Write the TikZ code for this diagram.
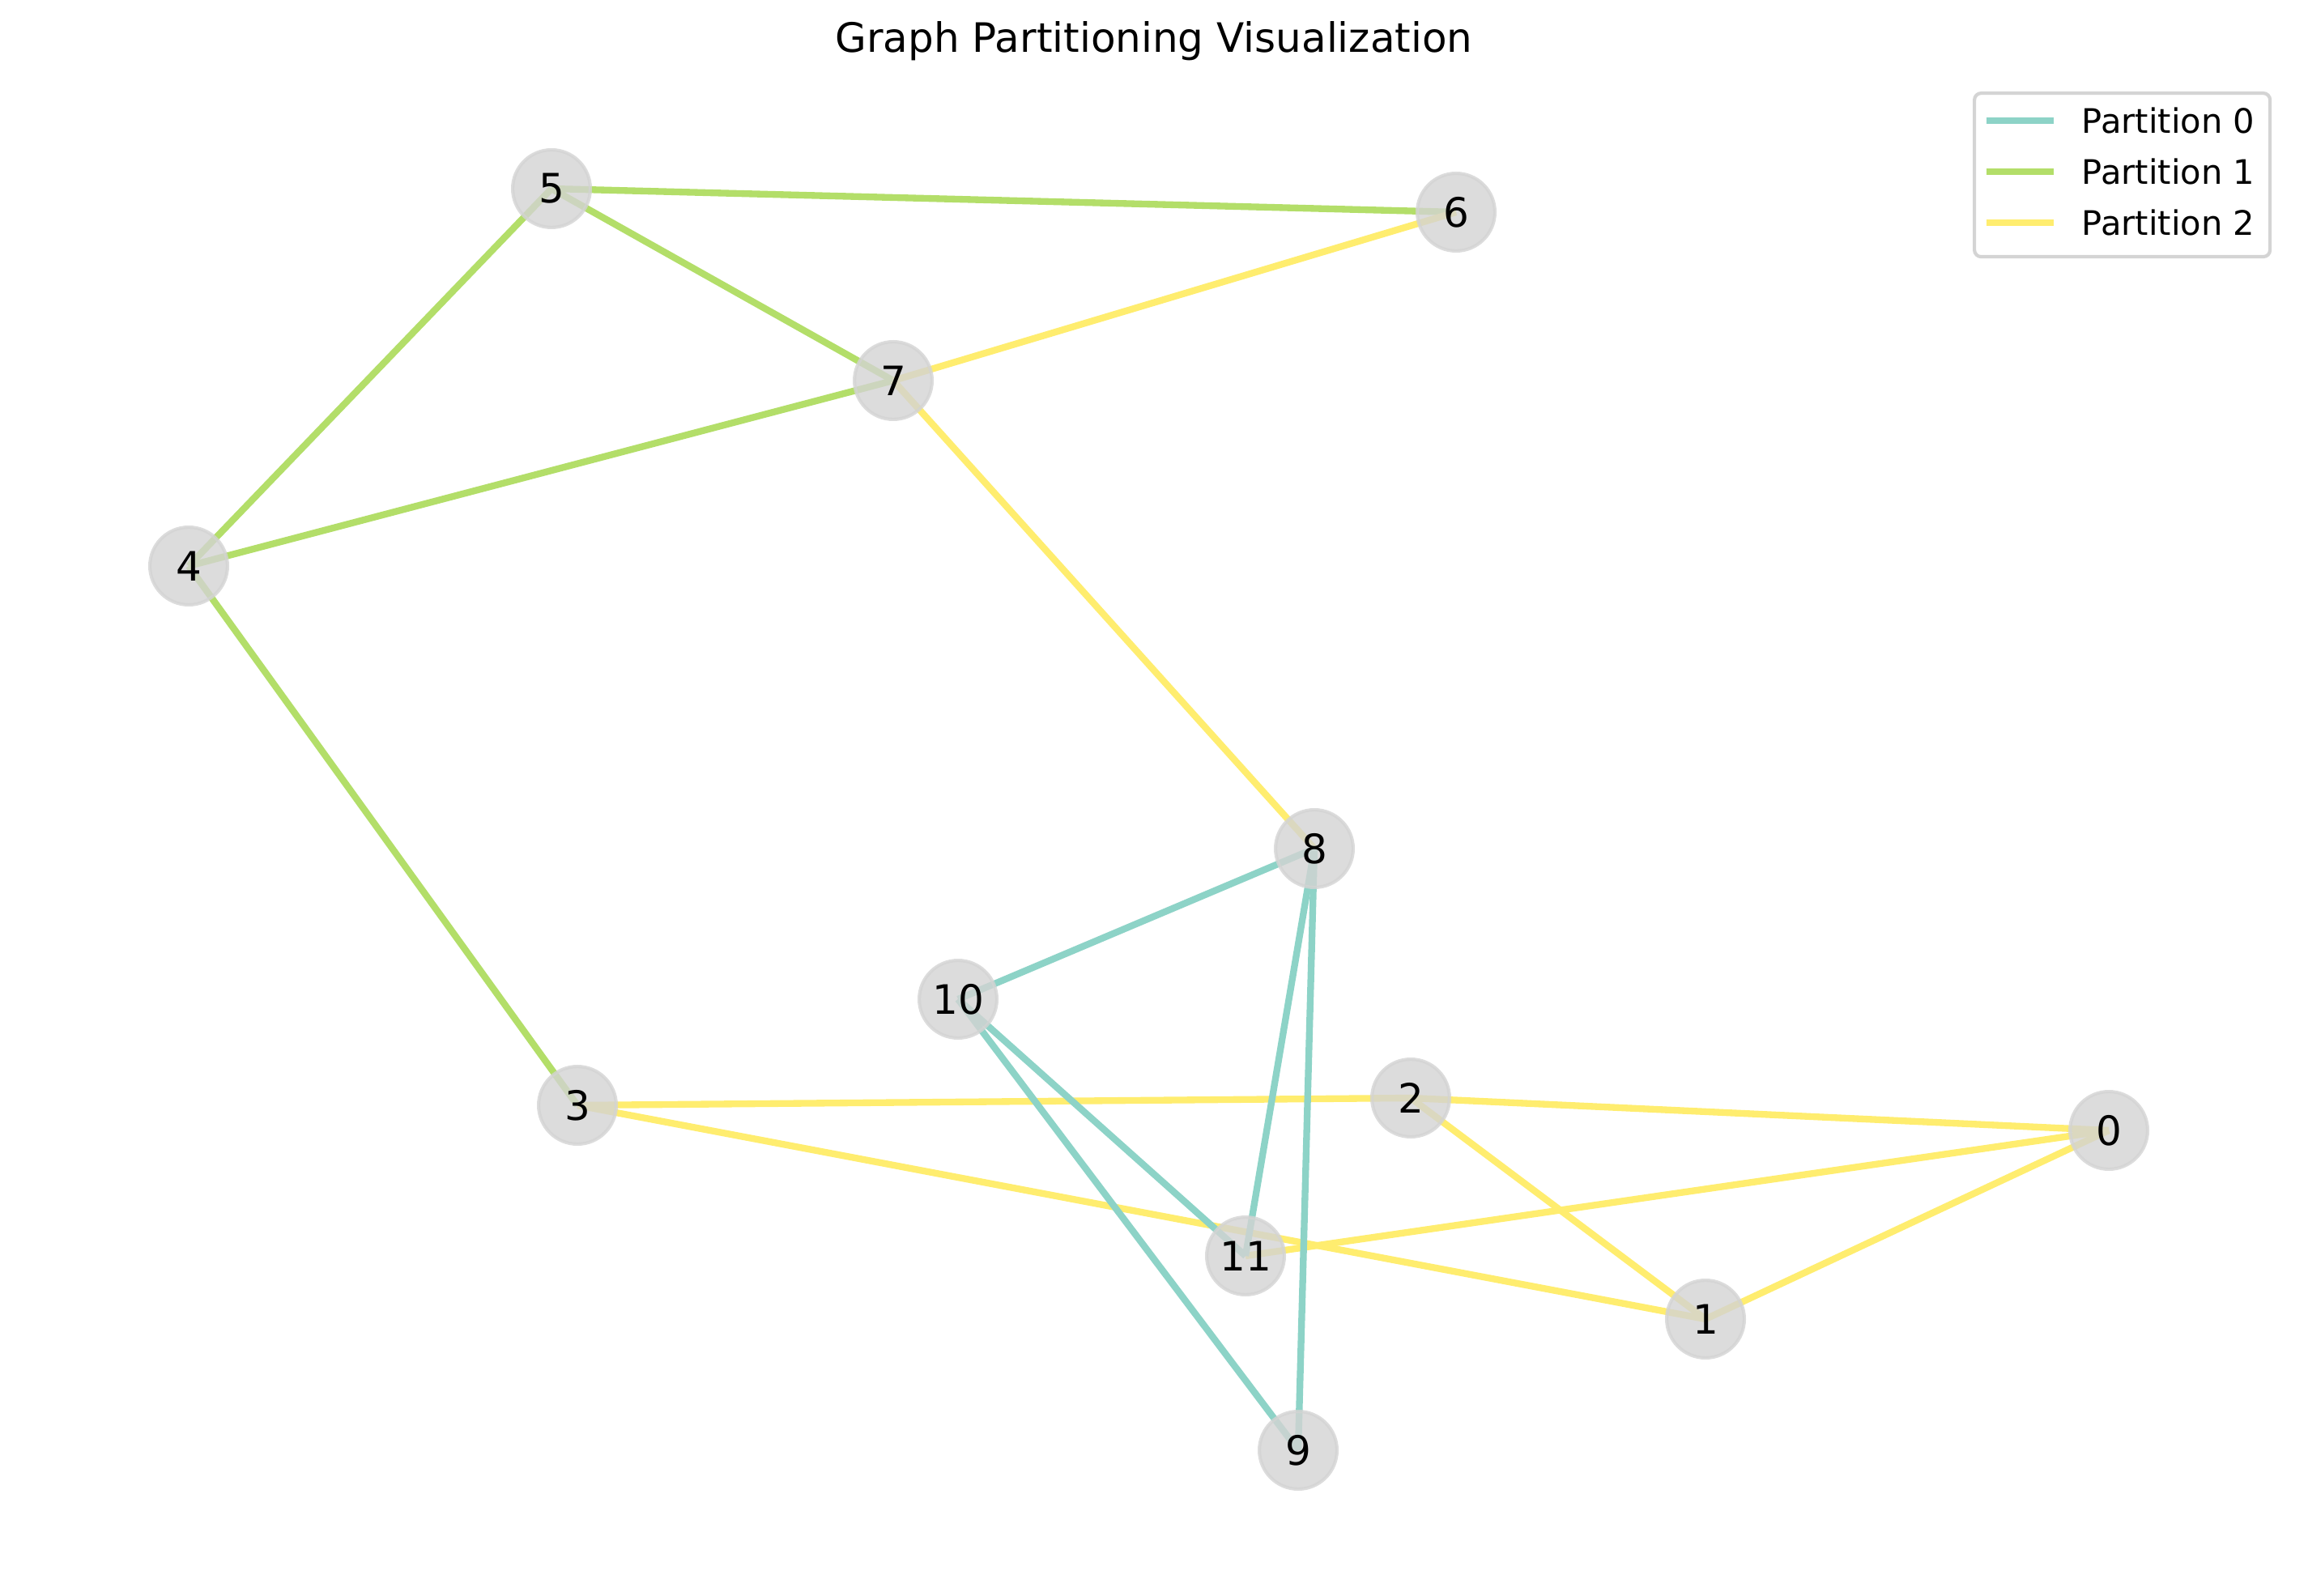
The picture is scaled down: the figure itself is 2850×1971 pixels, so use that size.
\documentclass[tikz,border=0pt]{standalone}
\usepackage{fontspec}
\setmainfont{DejaVu Sans}
\definecolor{pzero}{HTML}{8DD3C7}
\definecolor{pone}{HTML}{B3DE69}
\definecolor{ptwo}{HTML}{FFED6F}
\definecolor{nodegray}{HTML}{D3D3D3}
\definecolor{framegray}{HTML}{D4D4D4}
\pgfdeclarelayer{edges}
\pgfsetlayers{edges,main}
\tikzset{
  vert/.style={circle, minimum size=23pt, inner sep=0pt, fill=nodegray, fill opacity=0.8,
    draw=nodegray, draw opacity=0.8, line width=1pt, text opacity=1,
    font=\fontsize{12}{14}\selectfont},
  edgeA/.style={draw=pzero, line width=2pt},
  edgeB/.style={draw=pone, line width=2pt},
  edgeC/.style={draw=ptwo, line width=2pt},
  legtext/.style={anchor=west, inner sep=0pt, font=\fontsize{10}{12}\selectfont},
  legframe/.style={draw=framegray, line width=1pt, rounded corners=2pt, fill=white}
}
\begin{document}
\begin{tikzpicture}[x=0.24pt,y=-0.24pt]
\useasboundingbox (0,0) rectangle (2850,1971);
% title
\node[font=\fontsize{12}{14}\selectfont] (title) at (1425,51) {Graph Partitioning Visualization};
% vertices
\node[vert] (n0) at (2604,1396) {0};
\node[vert] (n1) at (2106,1629) {1};
\node[vert] (n2) at (1742,1356) {2};
\node[vert] (n3) at (713,1365) {3};
\node[vert] (n4) at (233,699) {4};
\node[vert] (n5) at (681,233) {5};
\node[vert] (n6) at (1798,262) {6};
\node[vert] (n7) at (1103,470) {7};
\node[vert] (n8) at (1623,1048) {8};
\node[vert] (n9) at (1603,1791) {9};
\node[vert] (n10) at (1183,1234) {10};
\node[vert] (n11) at (1538,1551) {11};
% edges
\begin{pgfonlayer}{edges}
\draw[edgeB] (n5.center) -- (n6.center);
\draw[edgeB] (n5.center) -- (n7.center);
\draw[edgeB] (n5.center) -- (n4.center);
\draw[edgeB] (n4.center) -- (n7.center);
\draw[edgeB] (n4.center) -- (n3.center);
\draw[edgeC] (n7.center) -- (n6.center);
\draw[edgeC] (n7.center) -- (n8.center);
\draw[edgeC] (n3.center) -- (n2.center);
\draw[edgeC] (n3.center) -- (n1.center);
\draw[edgeC] (n2.center) -- (n0.center);
\draw[edgeC] (n2.center) -- (n1.center);
\draw[edgeC] (n0.center) -- (n11.center);
\draw[edgeC] (n0.center) -- (n1.center);
\draw[edgeA] (n8.center) -- (n10.center);
\draw[edgeA] (n8.center) -- (n11.center);
\draw[edgeA] (n8.center) -- (n9.center);
\draw[edgeA] (n10.center) -- (n11.center);
\draw[edgeA] (n10.center) -- (n9.center);
\end{pgfonlayer}
% legend
\node[legframe, minimum width=365*0.24pt, minimum height=202*0.24pt, anchor=north west] (legend) at (2436,113) {};
\coordinate (la0) at (2453,149); \coordinate (lb0) at (2536,149);
\coordinate (la1) at (2453,212); \coordinate (lb1) at (2536,212);
\coordinate (la2) at (2453,275); \coordinate (lb2) at (2536,275);
\draw[edgeA] (la0) -- (lb0);
\draw[edgeB] (la1) -- (lb1);
\draw[edgeC] (la2) -- (lb2);
\node[legtext] (lt0) at (2570,149) {Partition 0};
\node[legtext] (lt1) at (2570,212) {Partition 1};
\node[legtext] (lt2) at (2570,275) {Partition 2};
\end{tikzpicture}
\end{document}
